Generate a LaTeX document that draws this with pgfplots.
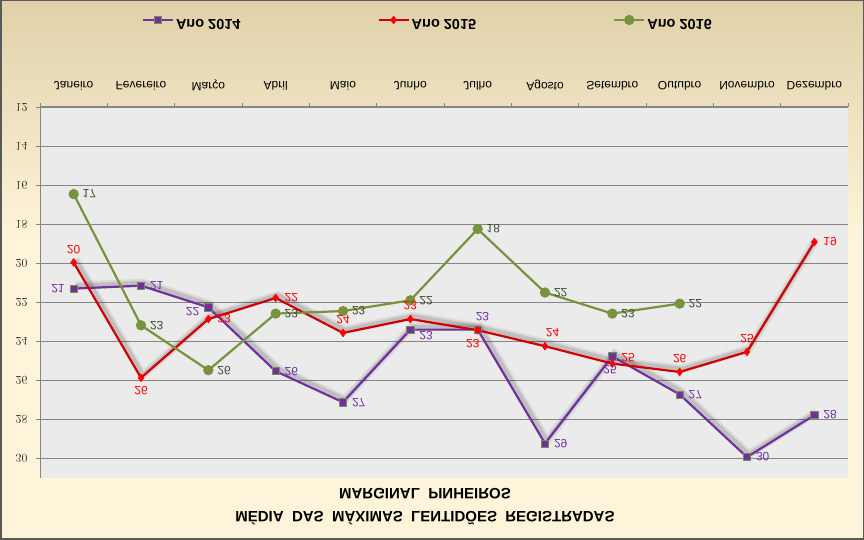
\documentclass[border=0pt]{standalone}
\usepackage{pgfplots}
\pgfplotsset{compat=1.18}
\usepackage{graphicx}
\usepackage{fontspec}
\setmainfont{Liberation Sans}
\newcommand{\flip}[1]{\scalebox{1}[-1]{#1}}
\definecolor{cA}{HTML}{7030A0}
\definecolor{cB}{HTML}{D00000}
\definecolor{cBl}{HTML}{FF0000}
\definecolor{cC}{HTML}{77933C}
\definecolor{cCl}{HTML}{404A30}
\definecolor{gridc}{HTML}{858585}
\definecolor{plotbg}{HTML}{EBEBEB}
\definecolor{bgtop}{HTML}{E0D1A9}
\definecolor{bgbot}{HTML}{FEF4D9}
\pgfplotsset{
  lbl/.style 2 args={only marks, mark=*, mark size=0pt, mark options={draw=none, fill=none}, forget plot,
    point meta=explicit symbolic,
    nodes near coords={\flip{\pgfplotspointmeta}},
    every node near coord/.style={anchor=#1, text=#2, font=\fontsize{12}{14}\selectfont, inner sep=2pt, outer sep=7pt}},
  shad/.style={black, no marks, xshift=2pt, yshift=3pt, forget plot}
}

\begin{document}
\begin{tikzpicture}[x=1pt,y=1pt]
\useasboundingbox (0,0) rectangle (864,540);
\fill[bgbot] (0,0) rectangle (864,540);
\shade[top color=bgtop, bottom color=bgbot] (0,300) rectangle (864,540);
\draw[gray!70!black, line width=1.5pt] (0.75,0.75) rectangle (863.25,539.25);
\begin{axis}[
  at={(40pt,62pt)}, anchor=south west,
  scale only axis, width=808pt, height=371pt,
  y dir=reverse,
  xmin=-0.5, xmax=11.5, ymin=12, ymax=31,
  axis x line*=top, axis y line*=left,
  axis line style={gridc, line width=1pt},
  axis background/.style={fill=plotbg},
  xtick={-0.5,0.5,...,11.5},
  x tick label as interval,
  xticklabels={\flip{Janeiro},\flip{Fevereiro},\flip{Março},\flip{Abril},\flip{Maio},\flip{Junho},\flip{Julho},\flip{Agosto},\flip{Setembro},\flip{Outubro},\flip{Novembro},\flip{Dezembro}},
  ytick={12,14,...,30},
  yticklabel={\flip{\pgfmathprintnumber{\tick}}},
  tick align=outside,
  major tick length=4pt,
  tick style={gridc, line width=0.8pt},
  ymajorgrids,
  grid style={gridc, line width=0.9pt},
  xticklabel style={font=\fontsize{12}{14}\selectfont, text=black, yshift=9pt},
  yticklabel style={font=\fontsize{11.5}{13}\selectfont, text=black!85, xshift=-5pt},
  legend columns=3,
  legend style={at={(0.48,1.2345)}, anchor=center, draw=none, fill=none,
    font=\bfseries\fontsize{14.5}{16}\selectfont,
    /tikz/every even column/.append style={column sep=135pt}},
  legend image code/.code={\draw[mark repeat=2,mark phase=2] plot coordinates {(0pt,0pt) (15pt,0pt) (30pt,0pt)};},
  clip=false,
]
\addlegendimage{cA, line width=2.2pt, mark=square*, mark size=3.6pt, mark options={fill=cA, draw=cC!70!gray, line width=0.6pt}}
\addlegendentry{\flip{Ano 2014}}
\addlegendimage{cB, line width=2.2pt, mark=diamond*, mark size=4pt, mark options={fill=cBl, draw=cBl, line width=0.4pt}}
\addlegendentry{\flip{Ano 2015}}
\addlegendimage{cC, line width=2.2pt, mark=*, mark size=4pt, mark options={fill=cC, draw=cC}}
\addlegendentry{\flip{Ano 2016}}

% shadows
\addplot[shad, opacity=0.07, line width=8pt] coordinates {(0,21.30) (1,21.15) (2,22.26) (3,25.53) (4,27.12) (5,23.40) (6,23.40) (7,29.23) (8,24.77) (9,26.72) (10,29.93) (11,27.78)};
\addplot[shad, opacity=0.12, line width=4pt] coordinates {(0,21.30) (1,21.15) (2,22.26) (3,25.53) (4,27.12) (5,23.40) (6,23.40) (7,29.23) (8,24.77) (9,26.72) (10,29.93) (11,27.78)};
\addplot[shad, opacity=0.07, line width=8pt] coordinates {(0,19.96) (1,25.87) (2,22.86) (3,21.78) (4,23.57) (5,22.86) (6,23.43) (7,24.25) (8,25.14) (9,25.57) (10,24.54) (11,18.92)};
\addplot[shad, opacity=0.12, line width=4pt] coordinates {(0,19.96) (1,25.87) (2,22.86) (3,21.78) (4,23.57) (5,22.86) (6,23.43) (7,24.25) (8,25.14) (9,25.57) (10,24.54) (11,18.92)};

% Ano 2014
\addplot[cA, line width=2.2pt, mark=square*, mark size=3.6pt, forget plot,
  mark options={fill=cA, draw=cC!70!gray, line width=0.6pt}]
  coordinates {(0,21.30) (1,21.15) (2,22.26) (3,25.53) (4,27.12) (5,23.40) (6,23.40) (7,29.23) (8,24.77) (9,26.72) (10,29.93) (11,27.78)};
% Ano 2015
\addplot[cB, line width=2.2pt, mark=diamond*, mark size=4pt, forget plot,
  mark options={fill=cBl, draw=cBl, line width=0.4pt}]
  coordinates {(0,19.96) (1,25.87) (2,22.86) (3,21.78) (4,23.57) (5,22.86) (6,23.43) (7,24.25) (8,25.14) (9,25.57) (10,24.54) (11,18.92)};
% Ano 2016
\addplot[cC, line width=2.2pt, mark=*, mark size=4pt, forget plot,
  mark options={fill=cC, draw=cC}]
  coordinates {(0,16.46) (1,23.18) (2,25.48) (3,22.58) (4,22.45) (5,21.90) (6,18.25) (7,21.50) (8,22.58) (9,22.07)};

% data labels 2014
\addplot[lbl={0}{cA}] coordinates {(0,21.30)[21]};
\addplot[lbl={180}{cA}] coordinates {(1,21.15)[21] (3,25.53)[26] (4,27.12)[27] (7,29.23)[29] (9,26.72)[27] (10,29.93)[30] (11,27.78)[28]};
\addplot[lbl={15}{cA}] coordinates {(2,22.26)[22]};
\addplot[lbl={160}{cA}] coordinates {(5,23.40)[23]};
\addplot[lbl={250}{cA}] coordinates {(6,23.40)[23]};
\addplot[lbl={80}{cA}] coordinates {(8,24.77)[25]};
% data labels 2015
\addplot[lbl={270}{cBl}] coordinates {(0,19.96)[20] (4,23.57)[24] (5,22.86)[23] (9,25.57)[26] (10,24.54)[25]};
\addplot[lbl={90}{cBl}] coordinates {(1,25.87)[26]};
\addplot[lbl={180}{cBl}] coordinates {(2,22.86)[23] (3,21.78)[22] (11,18.92)[19]};
\addplot[lbl={70}{cBl}] coordinates {(6,23.43)[23]};
\addplot[lbl={240}{cBl}] coordinates {(7,24.25)[24]};
\addplot[lbl={200}{cBl}] coordinates {(8,25.14)[25]};
% data labels 2016
\addplot[lbl={180}{cCl}] coordinates {(0,16.46)[17] (1,23.18)[23] (2,25.48)[26] (3,22.58)[23] (4,22.45)[23] (5,21.90)[22] (6,18.25)[18] (7,21.50)[22] (8,22.58)[23] (9,22.07)[22]};
\end{axis}
\node[font=\bfseries\fontsize{15}{17}\selectfont] at (425,46) {\flip{MARGINAL\ \ PINHEIROS}};
\node[font=\bfseries\fontsize{15}{17}\selectfont] at (425,22) {\flip{MÉDIA\ \ DAS\ \ MÁXIMAS\ \ LENTIDÕES\ \ REGISTRADAS}};
\end{tikzpicture}
\end{document}
